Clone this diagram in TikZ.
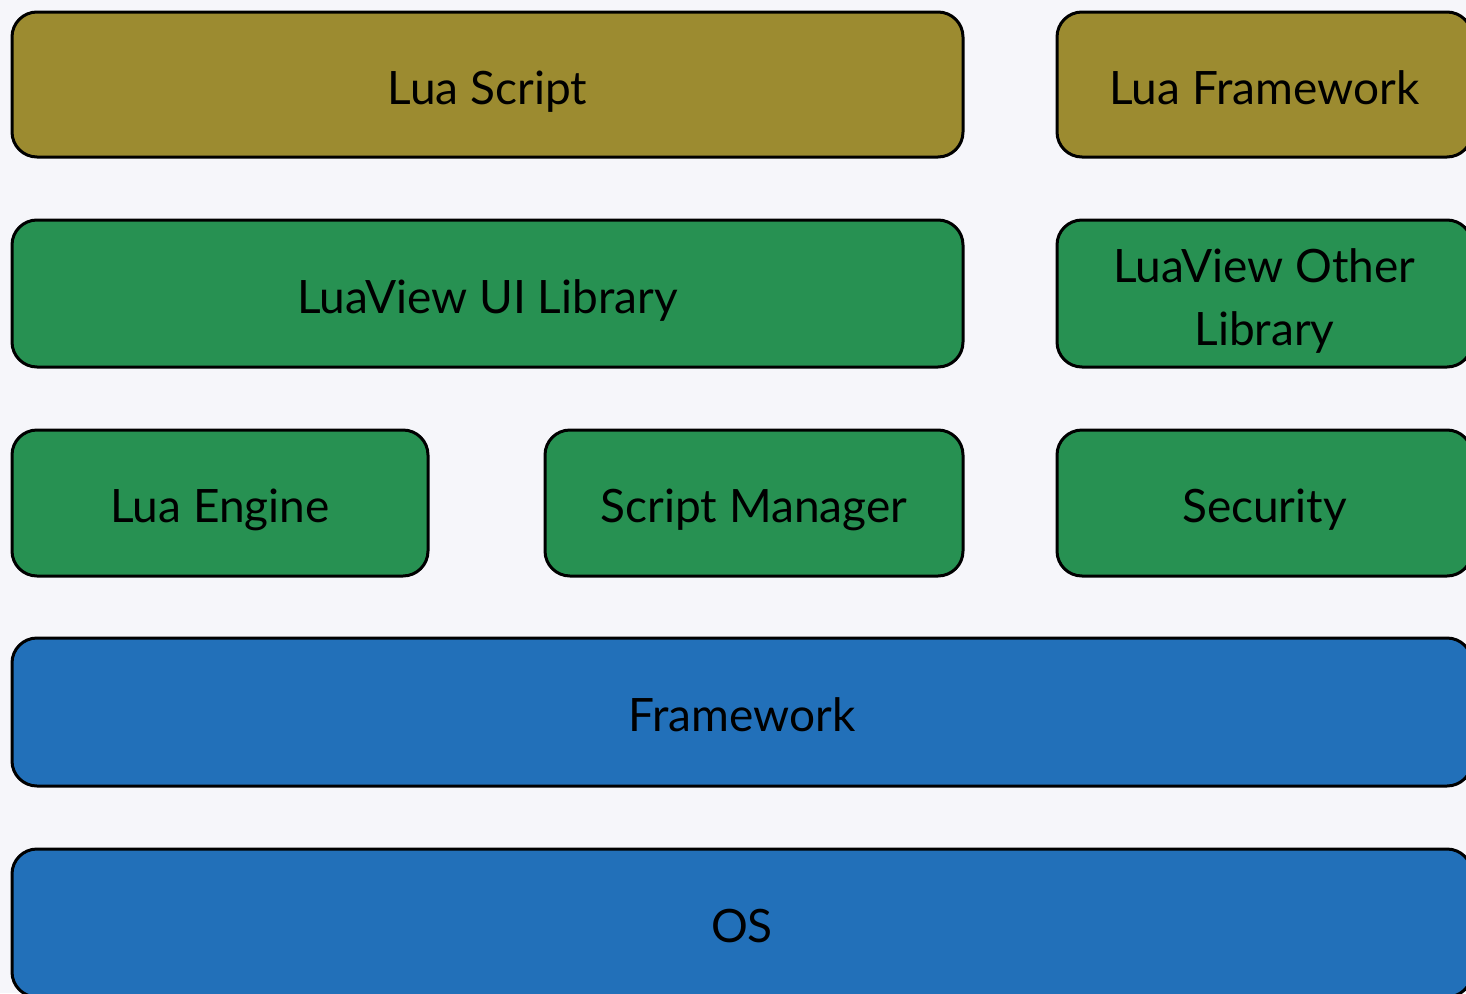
\documentclass[tikz,border=0pt]{standalone}
\usepackage{fontspec}
\setmainfont{Lato}
\usepackage{xcolor}
\definecolor{bgpaper}{HTML}{F6F6FA}
\definecolor{scriptgold}{HTML}{9C8B30}
\definecolor{libgreen}{HTML}{279152}
\definecolor{sysblue}{HTML}{2270B9}

\tikzset{
  layer/.style={draw=black, line width=3pt, rounded corners=25pt,
    align=center, inner sep=0pt, font=\fontsize{46}{63}\selectfont},
  oneline/.style={text height=39pt, text depth=0pt},
  goldlayer/.style={layer, oneline, fill=scriptgold},
  greenlayer/.style={layer, oneline, fill=libgreen},
  bluelayer/.style={layer, oneline, fill=sysblue}
}

\begin{document}
\begin{tikzpicture}[x=1pt,y=-1pt]
      % Page
      \fill[bgpaper] (0,0) rectangle (1466,993);
      \useasboundingbox (0,0) rectangle (1466,993);
      \clip (0,0) rectangle (1466,993);

      % Script layer
      \node[goldlayer, minimum width=951pt, minimum height=145pt] (luascript) at (487.5,84.5) {Lua Script};
      \node[goldlayer, minimum width=415pt, minimum height=145pt] (luaframework) at (1264.5,84.5) {Lua Framework};

      % Libraries
      \node[greenlayer, minimum width=951pt, minimum height=147pt] (uilib) at (487.5,293.5) {LuaView UI Library};
      \node[layer, fill=libgreen, text height=103pt, text depth=0pt, minimum width=415pt, minimum height=147pt] (otherlib) at (1264.5,293.5) {LuaView Other\\Library};

      % Core
      \node[greenlayer, minimum width=416pt, minimum height=146pt] (engine) at (220,503) {Lua Engine};
      \node[greenlayer, minimum width=418pt, minimum height=146pt] (manager) at (754,503) {Script Manager};
      \node[greenlayer, minimum width=415pt, minimum height=146pt] (security) at (1264.5,503) {Security};

      % Platform
      \node[bluelayer, minimum width=1460pt, minimum height=148pt] (framework) at (742,712) {Framework};
      \node[bluelayer, minimum width=1460pt, minimum height=148pt] (os) at (742,923) {OS};
\end{tikzpicture}
\end{document}
